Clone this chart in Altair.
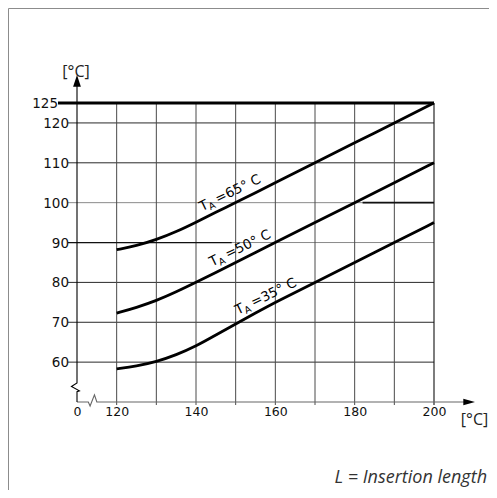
import altair as alt
import pandas as pd

# ---------------- data ----------------
curve_x = [120, 125, 130, 135, 140, 145, 150, 155, 160, 170, 180, 190, 200]
t65 = [88.2, 89.2, 90.7, 92.7, 95.1, 97.6, 100.0, 102.5, 105, 110, 115, 120, 125]
t50 = [72.3, 73.7, 75.4, 77.6, 80.0, 82.5, 85.0, 87.5, 90, 95, 100, 105, 110]
t35 = [58.3, 59.0, 60.1, 61.8, 64.0, 66.8, 69.6, 72.3, 75, 80, 85, 90, 95]
series_names = ["65", "50", "35"]

grid_x = [120, 130, 140, 150, 160, 170, 180, 190]
grid_x_edge = [200]
grid_y_dark = [60, 70, 80, 110, 120]
grid_y_light = [90, 100]
seg90 = [110, 149]      # darker part of the 90 line
seg100 = [182, 200]     # darker part of the 100 line

ytick_vals = [60, 70, 80, 90, 100, 110, 120]
ytick_top = [125]
xtick_vals = [120, 140, 160, 180, 200]
xtick_zero = [110]
xtick_zero_label = ["0"]

label_x = [142.3, 144.8, 151.3]
label_y = [96.3, 82.4, 70.3]
label_rest = ["=65° C", "=50° C", "=35° C"]

# axis break (zig-zag) outlines
yax_x = [110, 110, 108.6, 110.6, 110, 110]
yax_y = [125, 54.8, 53.9, 52.8, 52.6, 50]
xax_x = [110, 112.85, 113.3, 114.4, 115.0, 200]
xax_y = [50, 50, 49.0, 51.8, 50, 50]

X_MIN, X_MAX = 110, 200
Y_MIN, Y_MAX = 50, 125

# ---------------- scales ----------------
xs = alt.Scale(domain=[X_MIN, X_MAX], nice=False, zero=False)
ys = alt.Scale(domain=[Y_MIN, Y_MAX], nice=False, zero=False)


def ex(f):
    return alt.X(f, type="quantitative", scale=xs, axis=None)


def ey(f):
    return alt.Y(f, type="quantitative", scale=ys, axis=None)


NUM_FONT = "DejaVu Sans"
TXT_FONT = "Open Sans"

# ---------------- frames ----------------
one = pd.DataFrame({"a": [0]})
frame_top = alt.Chart(one).mark_rule(color="#8c8c8c", strokeWidth=1).encode(
    x=alt.value(-68.5), x2=alt.value(412), y=alt.value(-94.5))
frame_left = alt.Chart(one).mark_rule(color="#8c8c8c", strokeWidth=1).encode(
    x=alt.value(-68.5), y=alt.value(-94.5), y2=alt.value(389))

# ---------------- grid ----------------
vdf = pd.DataFrame({"x": grid_x, "y0": Y_MIN, "y1": Y_MAX})
vgrid = alt.Chart(vdf).mark_rule(color="#4a4a4a", strokeWidth=1, yOffset=3).encode(
    x=ex("x"), y=ey("y0"), y2="y1")
vedf = pd.DataFrame({"x": grid_x_edge, "y0": Y_MIN, "y1": Y_MAX})
vedge = alt.Chart(vedf).mark_rule(color="#111", strokeWidth=1.1, yOffset=3).encode(
    x=ex("x"), y=ey("y0"), y2="y1")

hd = pd.DataFrame({"y": grid_y_dark, "x0": X_MIN, "x1": X_MAX})
hgrid_dark = alt.Chart(hd).mark_rule(color="#2a2a2a", strokeWidth=1, xOffset=-9).encode(
    y=ey("y"), x=ex("x0"), x2="x1")
hl = pd.DataFrame({"y": grid_y_light, "x0": X_MIN, "x1": X_MAX})
hgrid_light = alt.Chart(hl).mark_rule(color="#8a8a8a", strokeWidth=1, xOffset=-9).encode(
    y=ey("y"), x=ex("x0"), x2="x1")
s90 = pd.DataFrame({"y": [90], "x0": [seg90[0]], "x1": [seg90[1]]})
seg90_l = alt.Chart(s90).mark_rule(color="#111", strokeWidth=1.3, xOffset=-9).encode(
    y=ey("y"), x=ex("x0"), x2="x1")
s100 = pd.DataFrame({"y": [100], "x0": [seg100[0]], "x1": [seg100[1]]})
seg100_l = alt.Chart(s100).mark_rule(color="#111", strokeWidth=1.6).encode(
    y=ey("y"), x=ex("x0"), x2="x1")

top_df = pd.DataFrame({"y": ytick_top, "x0": X_MIN, "x1": X_MAX})
top_line = alt.Chart(top_df).mark_rule(color="#000", strokeWidth=2.8, xOffset=-19).encode(
    y=ey("y"), x=ex("x0"), x2="x1")

# ---------------- axes ----------------
ya = pd.DataFrame({"x": yax_x, "y": yax_y, "i": list(range(len(yax_x)))})
y_axis = alt.Chart(ya).mark_line(color="#000", strokeWidth=1.1).encode(
    x=ex("x"), y=ey("y"), order="i:Q")
xa = pd.DataFrame({"x": xax_x, "y": xax_y, "i": list(range(len(xax_x)))})
x_axis = alt.Chart(xa).mark_line(color="#666", strokeWidth=1.1).encode(
    x=ex("x"), y=ey("y"), order="i:Q")

yext = pd.DataFrame({"x": [X_MIN], "y0": [Y_MAX], "y1": [Y_MAX]})
y_ext = alt.Chart(yext).mark_rule(color="#000", strokeWidth=1.1, y2Offset=-22).encode(
    x=ex("x"), y=ey("y0"), y2="y1")
xext = pd.DataFrame({"y": [Y_MIN], "x0": [X_MAX], "x1": [X_MAX]})
x_ext = alt.Chart(xext).mark_rule(color="#666", strokeWidth=1.1, x2Offset=35).encode(
    y=ey("y"), x=ex("x0"), x2="x1")

up_arrow = alt.Chart(pd.DataFrame({"x": [X_MIN], "y": [Y_MAX]})).mark_point(
    shape="M0,-1L0.65,0.95L-0.65,0.95Z", size=144, filled=True, color="#000",
    opacity=1, strokeWidth=0, yOffset=-22).encode(x=ex("x"), y=ey("y"))
right_arrow = alt.Chart(pd.DataFrame({"x": [X_MAX], "y": [Y_MIN]})).mark_point(
    shape="M1,0L-0.95,0.55L-0.95,-0.55Z", size=144, filled=True, color="#000",
    opacity=1, strokeWidth=0, xOffset=35).encode(x=ex("x"), y=ey("y"))

# ---------------- curves ----------------
rows = []
for name, vals in zip(series_names, [t65, t50, t35]):
    for xv, yv in zip(curve_x, vals):
        rows.append({"s": name, "x": xv, "y": yv})
cdf = pd.DataFrame(rows)
curves = alt.Chart(cdf).mark_line(color="#000", strokeWidth=2.8, interpolate="basis").encode(
    x=ex("x"), y=ey("y"), detail="s:N")

# ---------------- curve labels ----------------
ldf = pd.DataFrame({"x": label_x, "y": label_y, "t": label_rest})
ANG = 334
lab_T = alt.Chart(ldf).mark_text(text="T", angle=ANG, align="left", baseline="alphabetic",
                                 dx=0, dy=-7, font=NUM_FONT, fontSize=13.5, color="#000").encode(
    x=ex("x"), y=ey("y"))
lab_A = alt.Chart(ldf).mark_text(text="A", angle=ANG, align="left", baseline="alphabetic",
                                 dx=8, dy=-4, font=NUM_FONT, fontSize=9.5, color="#000").encode(
    x=ex("x"), y=ey("y"))
lab_R = alt.Chart(ldf).mark_text(angle=ANG, align="left", baseline="alphabetic",
                                 dx=17.5, dy=-7, font=NUM_FONT, fontSize=13.5, color="#000").encode(
    x=ex("x"), y=ey("y"), text="t:N")

# ---------------- tick labels ----------------
ytl = pd.DataFrame({"y": ytick_vals, "x": X_MIN, "t": [str(v) for v in ytick_vals]})
ytick_text = alt.Chart(ytl).mark_text(align="right", baseline="alphabetic", dx=-8, dy=5,
                                      font=NUM_FONT, fontSize=13.5, color="#111").encode(
    x=ex("x"), y=ey("y"), text="t:N")
ytt = pd.DataFrame({"y": ytick_top, "x": X_MIN, "t": [str(v) for v in ytick_top]})
ytop_text = alt.Chart(ytt).mark_text(align="right", baseline="alphabetic", dx=-19, dy=5,
                                     font=NUM_FONT, fontSize=13.5, color="#111").encode(
    x=ex("x"), y=ey("y"), text="t:N")
xtl = pd.DataFrame({"x": xtick_vals + xtick_zero, "y": Y_MIN,
                    "t": [str(v) for v in xtick_vals] + xtick_zero_label})
xtick_text = alt.Chart(xtl).mark_text(align="center", baseline="alphabetic", dx=0.5, dy=14,
                                      font=NUM_FONT, fontSize=12.5, color="#111").encode(
    x=ex("x"), y=ey("y"), text="t:N")

# ---------------- titles ----------------
ytitle = alt.Chart(pd.DataFrame({"x": [X_MIN], "y": [Y_MAX]})).mark_text(
    text="[°C]", align="center", baseline="alphabetic", dx=-1, dy=-26,
    font=TXT_FONT, fontSize=16, color="#222").encode(x=ex("x"), y=ey("y"))
xtitle = alt.Chart(pd.DataFrame({"x": [X_MAX], "y": [Y_MIN]})).mark_text(
    text="[°C]", align="center", baseline="alphabetic", dx=40.5, dy=23,
    font=TXT_FONT, fontSize=16, color="#222").encode(x=ex("x"), y=ey("y"))
note = alt.Chart(pd.DataFrame({"x": [X_MAX], "y": [Y_MIN]})).mark_text(
    text="L = Insertion length", align="right", baseline="alphabetic", dx=53, dy=81,
    font=TXT_FONT, fontSize=18, fontStyle="italic", color="#333").encode(x=ex("x"), y=ey("y"))

chart = alt.layer(
    frame_top, frame_left,
    hgrid_light, hgrid_dark, vgrid, vedge, seg90_l, seg100_l, top_line,
    x_axis, x_ext, y_axis, y_ext, up_arrow, right_arrow,
    curves, lab_T, lab_A, lab_R,
    ytick_text, ytop_text, xtick_text, ytitle, xtitle, note,
).properties(
    width=357, height=299,
    padding={"left": 69, "top": 95, "right": 55, "bottom": 88},
    autosize=alt.AutoSizeParams(type="none"),
    background="white",
).configure_view(stroke=None)

chart.save("out.html", embed_options={"renderer": "svg", "actions": False})
